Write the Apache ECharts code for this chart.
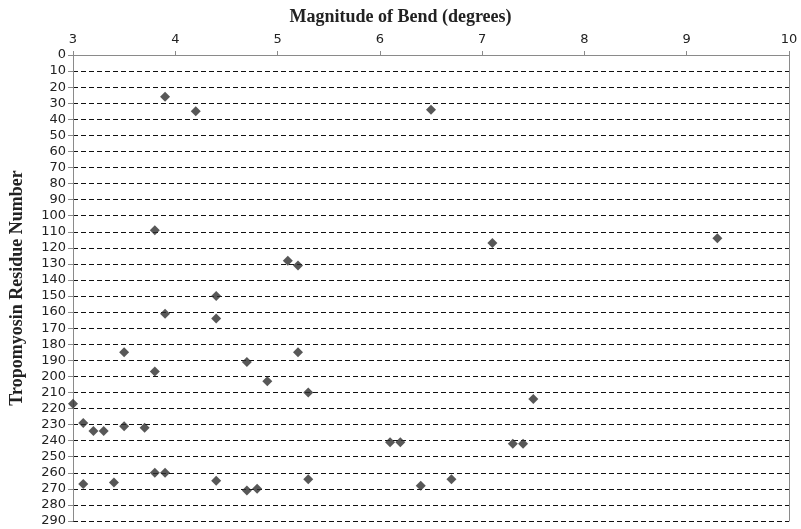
<!DOCTYPE html>
<html>
<head>
<meta charset="utf-8">
<script src="https://cdn.jsdelivr.net/npm/echarts@6/dist/echarts.min.js"></script>
<style>
  html, body { margin: 0; padding: 0; background: #fff; }
  #chart { width: 801px; height: 529px; }
</style>
</head>
<body>
<div id="chart"></div>
<script>
// Magnitude of bend (degrees) for each point
const bendDeg = [
  3.9, 4.2, 6.5, 3.8, 7.1, 9.3, 5.1, 5.2,
  4.4, 3.9, 4.4, 3.5, 5.2, 4.7, 3.8, 4.9, 5.3, 7.5,
  3.0, 3.1, 3.2, 3.3, 3.5, 3.7,
  6.1, 6.2, 7.3, 7.4,
  3.8, 3.9, 3.1, 3.4, 4.4, 4.7, 4.8, 5.3, 6.4, 6.7
];
// Tropomyosin residue number for each point
const residue = [
  26, 35, 34, 109, 117, 114, 128, 131,
  150, 161, 164, 185, 185, 191, 197, 203, 210, 214,
  217, 229, 234, 234, 231, 232,
  241, 241, 242, 242,
  260, 260, 267, 266, 265, 271, 270, 264, 268, 264
];
const xTicks = { min: 3, max: 10, step: 1 };
const yTicks = { min: 0, max: 290, step: 10 };

const points = bendDeg.map((x, i) => [x, residue[i]]);

const chart = echarts.init(document.getElementById('chart'), null, { renderer: 'canvas' });
const labelFont = '"DejaVu Sans", sans-serif';
const serif = '"Liberation Serif", "DejaVu Serif", serif';

chart.setOption({
  animation: false,
  backgroundColor: '#ffffff',
  title: {
    text: 'Magnitude of Bend (degrees)',
    left: 'center',
    top: 3,
    textStyle: { fontFamily: serif, fontWeight: 'bold', fontSize: 18, color: '#222' }
  },
  grid: { left: 70, right: 12, top: 55, bottom: 8, containLabel: false },
  xAxis: {
    type: 'value',
    position: 'top',
    min: xTicks.min, max: xTicks.max, interval: xTicks.step,
    axisLine: { show: true, lineStyle: { color: '#8a8a8a', width: 1 } },
    axisTick: { show: true, inside: false, length: 4, lineStyle: { color: '#8a8a8a' } },
    axisLabel: { fontFamily: labelFont, fontSize: 13, color: '#222', margin: 9 },
    splitLine: { show: false }
  },
  yAxis: [{
    type: 'value',
    inverse: true,
    min: yTicks.min, max: yTicks.max, interval: yTicks.step,
    name: 'Tropomyosin Residue Number',
    nameLocation: 'middle',
    nameRotate: 90,
    nameGap: 47,
    nameTextStyle: { fontFamily: serif, fontWeight: 'bold', fontSize: 18, color: '#222' },
    axisLine: { show: true, lineStyle: { color: '#8a8a8a', width: 1 } },
    axisTick: { show: true, inside: false, length: 5, lineStyle: { color: '#8a8a8a' } },
    axisLabel: { fontFamily: labelFont, fontSize: 13, color: '#222', margin: 7 },
    splitLine: { show: true, lineStyle: { color: '#111', type: [5, 3], width: 1 } }
  }, {
    type: 'value',
    position: 'right',
    inverse: true,
    min: yTicks.min, max: yTicks.max, interval: yTicks.step,
    axisLine: { show: true, lineStyle: { color: '#8a8a8a', width: 1 } },
    axisTick: { show: false },
    axisLabel: { show: false },
    splitLine: { show: false }
  }],
  series: [{
    type: 'scatter',
    yAxisIndex: 0,
    symbol: 'diamond',
    symbolSize: 10,
    itemStyle: { color: '#2e2e2e' },
    data: points
  }]
});
</script>
</body>
</html>
